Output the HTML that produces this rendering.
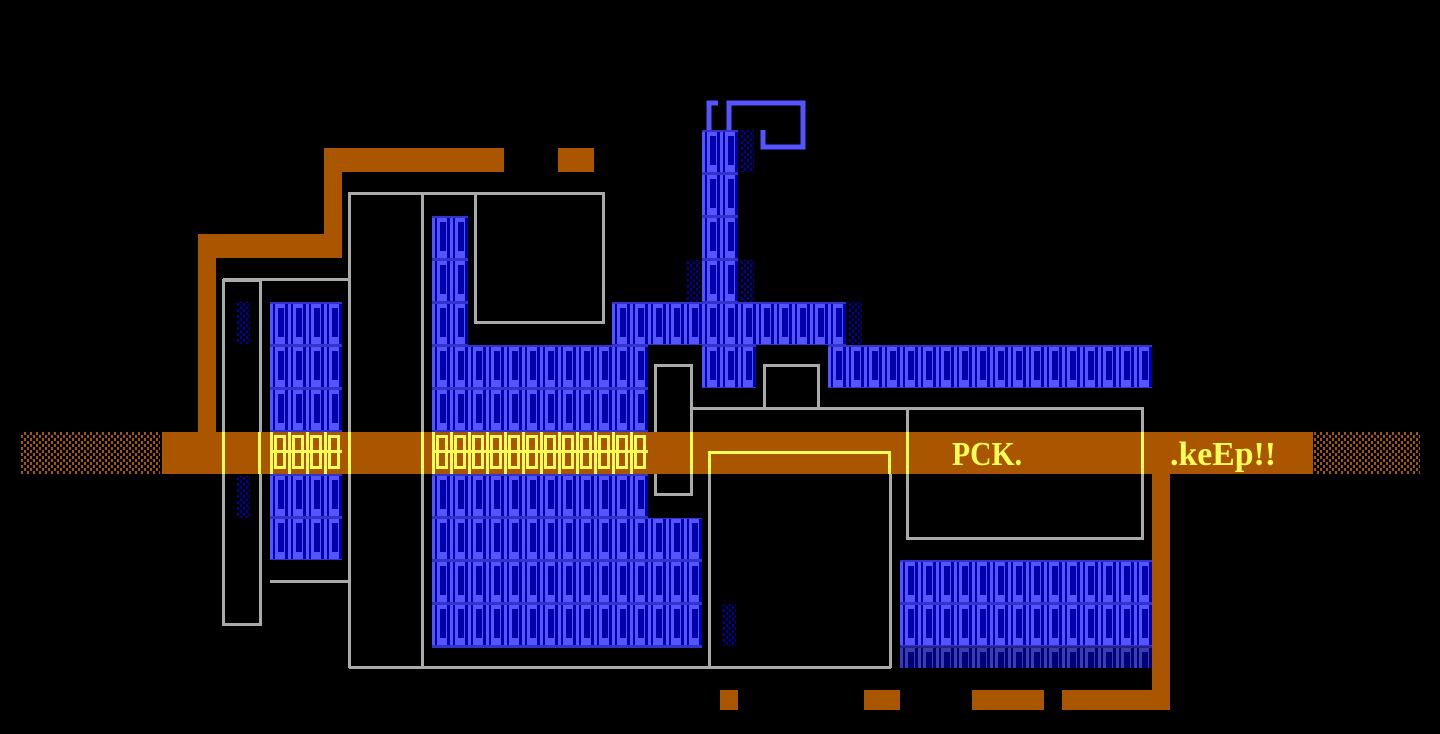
<!DOCTYPE html>
<html><head><style>html,body{margin:0;padding:0;background:#000;}svg{display:block}</style></head>
<body>
<svg width="1440" height="734" viewBox="0 0 1440 734" xmlns="http://www.w3.org/2000/svg">
<defs>
<pattern id="bt" x="0" y="0" width="18" height="43" patternUnits="userSpaceOnUse">
<rect width="18" height="43" fill="#5555ff"/>
<rect x="3" y="0" width="2" height="43" fill="#0000aa"/>
<rect x="8" y="7" width="6" height="29" fill="#0000aa"/>
<rect x="15" y="0" width="3" height="43" fill="#0000aa"/>
<rect x="0" y="0" width="18" height="3" fill="#3333cc"/>
</pattern>
<pattern id="yt" x="0" y="0" width="18" height="43" patternUnits="userSpaceOnUse">
<rect width="18" height="43" fill="#aa5500"/>
<rect x="0" y="0" width="3" height="43" fill="#ffff55"/>
<rect x="5.5" y="6.5" width="9" height="31" fill="none" stroke="#ffff55" stroke-width="3"/>
<rect x="0" y="20" width="18" height="3" fill="#ffff55"/>
</pattern>
<pattern id="dot" width="6" height="6" patternUnits="userSpaceOnUse">
<rect width="2" height="3" fill="#aa5500"/><rect x="3" y="3" width="2" height="3" fill="#aa5500"/>
</pattern>
<pattern id="bdot" width="6" height="6" patternUnits="userSpaceOnUse">
<rect width="2" height="3" fill="#0000aa"/><rect x="3" y="3" width="2" height="3" fill="#0000aa"/>
</pattern>
</defs>

<g fill="#aa5500">
<rect x="324" y="148" width="180" height="24"/>
<rect x="558" y="148" width="36" height="24"/>
<rect x="324" y="148" width="18" height="110"/>
<rect x="198" y="234" width="144" height="24"/>
<rect x="198" y="234" width="18" height="200"/>
<rect x="1152" y="470" width="18" height="240"/>
<rect x="1062" y="690" width="108" height="20"/>
<rect x="972" y="690" width="72" height="20"/>
<rect x="864" y="690" width="36" height="20"/>
<rect x="720" y="690" width="18" height="20"/>
</g>

<g fill="url(#bt)">
<rect x="270" y="302" width="72" height="258"/>
<rect x="432" y="216" width="36" height="130"/>
<rect x="432" y="345" width="216" height="173"/>
<rect x="432" y="518" width="270" height="130"/>
<rect x="612" y="302" width="234" height="43"/>
<rect x="702" y="130" width="36" height="172"/>
<rect x="702" y="345" width="54" height="43"/>
<rect x="828" y="345" width="324" height="43"/>
<rect x="900" y="560" width="252" height="108"/>
</g>
<rect x="900" y="646" width="252" height="22" fill="#000" opacity="0.3"/>
<g fill="url(#bdot)">
<rect x="236" y="302" width="14" height="42"/>
<rect x="236" y="476" width="14" height="42"/>
<rect x="686" y="260" width="14" height="42"/>
<rect x="740" y="130" width="14" height="42"/>
<rect x="740" y="260" width="14" height="42"/>
<rect x="848" y="302" width="14" height="42"/>
<rect x="722" y="604" width="14" height="42"/>
</g>

<g fill="none" stroke="#5555ff" stroke-width="5">
<path d="M709 130 V103 H718"/>
<path d="M729 130 V103 H803 V147 H763 V130"/>
</g>

<g fill="none" stroke="#aaaaaa" stroke-width="3">
<rect x="223.5" y="280.5" width="37" height="344"/>
<path d="M223 279.5 H350"/>
<path d="M270 581.5 H350"/>
<path d="M349.5 668 V193.5 H603.5 V322.5 H475.5 V193"/>
<path d="M422.5 193 V668"/>
<path d="M349 667.5 H891"/>
<rect x="655.5" y="365.5" width="36" height="129"/>
<path d="M764.5 408 V365.5 H818.5 V408"/>
<path d="M692 408.5 H1143"/>
<rect x="907.5" y="408.5" width="235" height="130"/>
<path d="M709.5 668 V452.5 H890.5 V668"/>
</g>

<rect x="20" y="432" width="140" height="42" fill="url(#dot)"/>
<rect x="162" y="432" width="1151" height="42" fill="#aa5500"/>
<rect x="1313" y="432" width="107" height="42" fill="url(#dot)"/>
<rect x="270" y="432" width="72" height="42" fill="url(#yt)"/>
<rect x="432" y="432" width="216" height="42" fill="url(#yt)"/>
<g fill="#ffff55">
<rect x="222" y="432" width="3" height="42"/>
<rect x="258" y="432" width="3" height="42"/>
<rect x="348" y="432" width="3" height="42"/>
<rect x="421" y="432" width="3" height="42"/>
<rect x="690" y="432" width="3" height="42"/>
<rect x="906" y="432" width="3" height="42"/>
<rect x="1141" y="432" width="3" height="42"/>
<rect x="708" y="451" width="183" height="3"/>
<rect x="708" y="451" width="3" height="23"/>
<rect x="888" y="451" width="3" height="23"/>
</g>
<g font-family="'Liberation Serif', serif" font-size="34" fill="#ffff55" font-weight="bold">
<text x="952" y="465" textLength="70" lengthAdjust="spacingAndGlyphs">PCK.</text>
<text x="1170" y="465" textLength="106" lengthAdjust="spacingAndGlyphs">.keEp!!</text>
</g>
</svg>
</body></html>
